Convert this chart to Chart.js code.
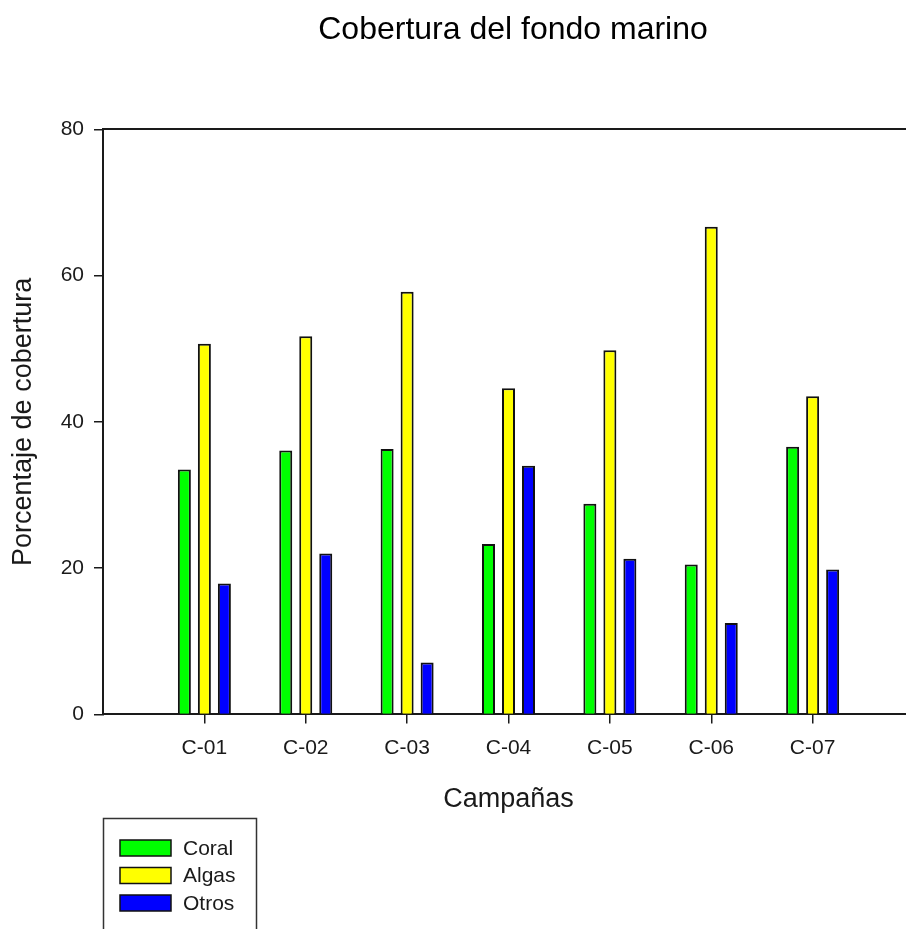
<!DOCTYPE html>
<html>
<head>
<meta charset="utf-8">
<title>Cobertura del fondo marino</title>
<script src="https://cdn.jsdelivr.net/npm/chart.js@4.4.1/dist/chart.umd.min.js"></script>
<style>
  html, body { margin: 0; padding: 0; background: #fff; overflow: hidden; }
  #wrap { width: 1026px; height: 929px; }
</style>
</head>
<body>
<div id="wrap"><canvas id="chart" width="1026" height="929"></canvas></div>
<script>
// data
var campaigns = ['C-01', 'C-02', 'C-03', 'C-04', 'C-05', 'C-06', 'C-07'];
var coral = [33.5, 36.1, 36.3, 23.3, 28.8, 20.5, 36.6];
var algas = [50.7, 51.7, 57.8, 44.6, 49.8, 66.7, 43.5];
var otros = [17.9, 22.0, 7.1, 34.0, 21.3, 12.5, 19.8];
var yTicks = [0, 20, 40, 60, 80];

var FONT = '"Liberation Sans", Arial, sans-serif';
var INK = '#1a1a1a';

// one empty slot on each side, like the original axis
var labels = [''].concat(campaigns, ['']);
function pad(arr) { return [null].concat(arr, [null]); }

function hideEnds(ctx) {
  return (ctx.index === 0 || ctx.index === labels.length - 1) ? 'rgba(0,0,0,0)' : INK;
}

// boxed legend under the axis, stacked vertically
var boxLegend = {
  id: 'boxLegend',
  afterDraw: function (chart) {
    var ctx = chart.ctx;
    var x = 103, y = 818;
    ctx.save();
    ctx.lineWidth = 1.5;
    ctx.strokeStyle = '#333';
    ctx.strokeRect(x + 0.5, y + 0.5, 153, 140);
    ctx.font = '21px ' + FONT;
    ctx.textBaseline = 'middle';
    chart.data.datasets.forEach(function (ds, i) {
      var top = 840 + i * 27.5;
      ctx.fillStyle = ds.backgroundColor;
      ctx.fillRect(120, top, 51, 16);
      ctx.strokeStyle = '#111';
      ctx.lineWidth = 1.5;
      ctx.strokeRect(120, top, 51, 16);
      ctx.fillStyle = INK;
      ctx.fillText(ds.label, 183, top + 9);
    });
    ctx.restore();
  }
};

var barStyle = { borderColor: '#111', borderWidth: 2, categoryPercentage: 0.592, barPercentage: 0.65 };

new Chart(document.getElementById('chart'), {
  type: 'bar',
  data: {
    labels: labels,
    datasets: [
      Object.assign({ label: 'Coral', data: pad(coral), backgroundColor: '#00ff00' }, barStyle),
      Object.assign({ label: 'Algas', data: pad(algas), backgroundColor: '#ffff00' }, barStyle),
      Object.assign({ label: 'Otros', data: pad(otros), backgroundColor: '#0000ff' }, barStyle)
    ]
  },
  options: {
    responsive: false,
    animation: false,
    layout: { padding: { left: 0, right: 0, top: 0, bottom: 113 } },
    plugins: {
      legend: { display: false },
      tooltip: { enabled: false },
      title: {
        display: true,
        text: 'Cobertura del fondo marino',
        color: '#000',
        font: { family: FONT, size: 32, weight: 'normal' },
        padding: { top: 11, bottom: 80 }
      }
    },
    scales: {
      x: {
        offset: false,
        grid: { offset: false, drawOnChartArea: false, tickLength: 9, lineWidth: 1.5, color: hideEnds },
        border: { display: true, color: INK, width: 2 },
        ticks: { color: INK, padding: 12, maxRotation: 0, autoSkip: false, font: { family: FONT, size: 21 } },
        title: {
          display: true,
          text: 'Campañas',
          color: INK,
          font: { family: FONT, size: 27 },
          padding: { top: 11, bottom: 0 }
        }
      },
      x2: {
        position: 'top',
        offset: false,
        grid: { display: false, drawTicks: false },
        border: { display: true, color: INK, width: 2 },
        ticks: { display: false }
      },
      y: {
        min: yTicks[0],
        max: yTicks[yTicks.length - 1],
        afterBuildTicks: function (scale) {
          scale.ticks = yTicks.map(function (v) { return { value: v }; });
        },
        afterFit: function (scale) { scale.width = 103; },
        grid: { drawOnChartArea: false, tickLength: 9, lineWidth: 1.5, color: INK },
        border: { display: true, color: INK, width: 2 },
        ticks: { color: INK, padding: 10, font: { family: FONT, size: 21 } },
        title: {
          display: true,
          text: 'Porcentaje de cobertura',
          color: INK,
          font: { family: FONT, size: 27 },
          padding: { top: 7, bottom: 0 }
        }
      },
      // empty right-hand strip: the plot runs on past the visible edge
      y2: {
        position: 'right',
        min: 0,
        max: 80,
        afterFit: function (scale) { scale.width = 112; },
        grid: { display: false, drawTicks: false },
        border: { display: false },
        ticks: { display: false }
      }
    }
  },
  plugins: [boxLegend]
});
</script>
</body>
</html>
